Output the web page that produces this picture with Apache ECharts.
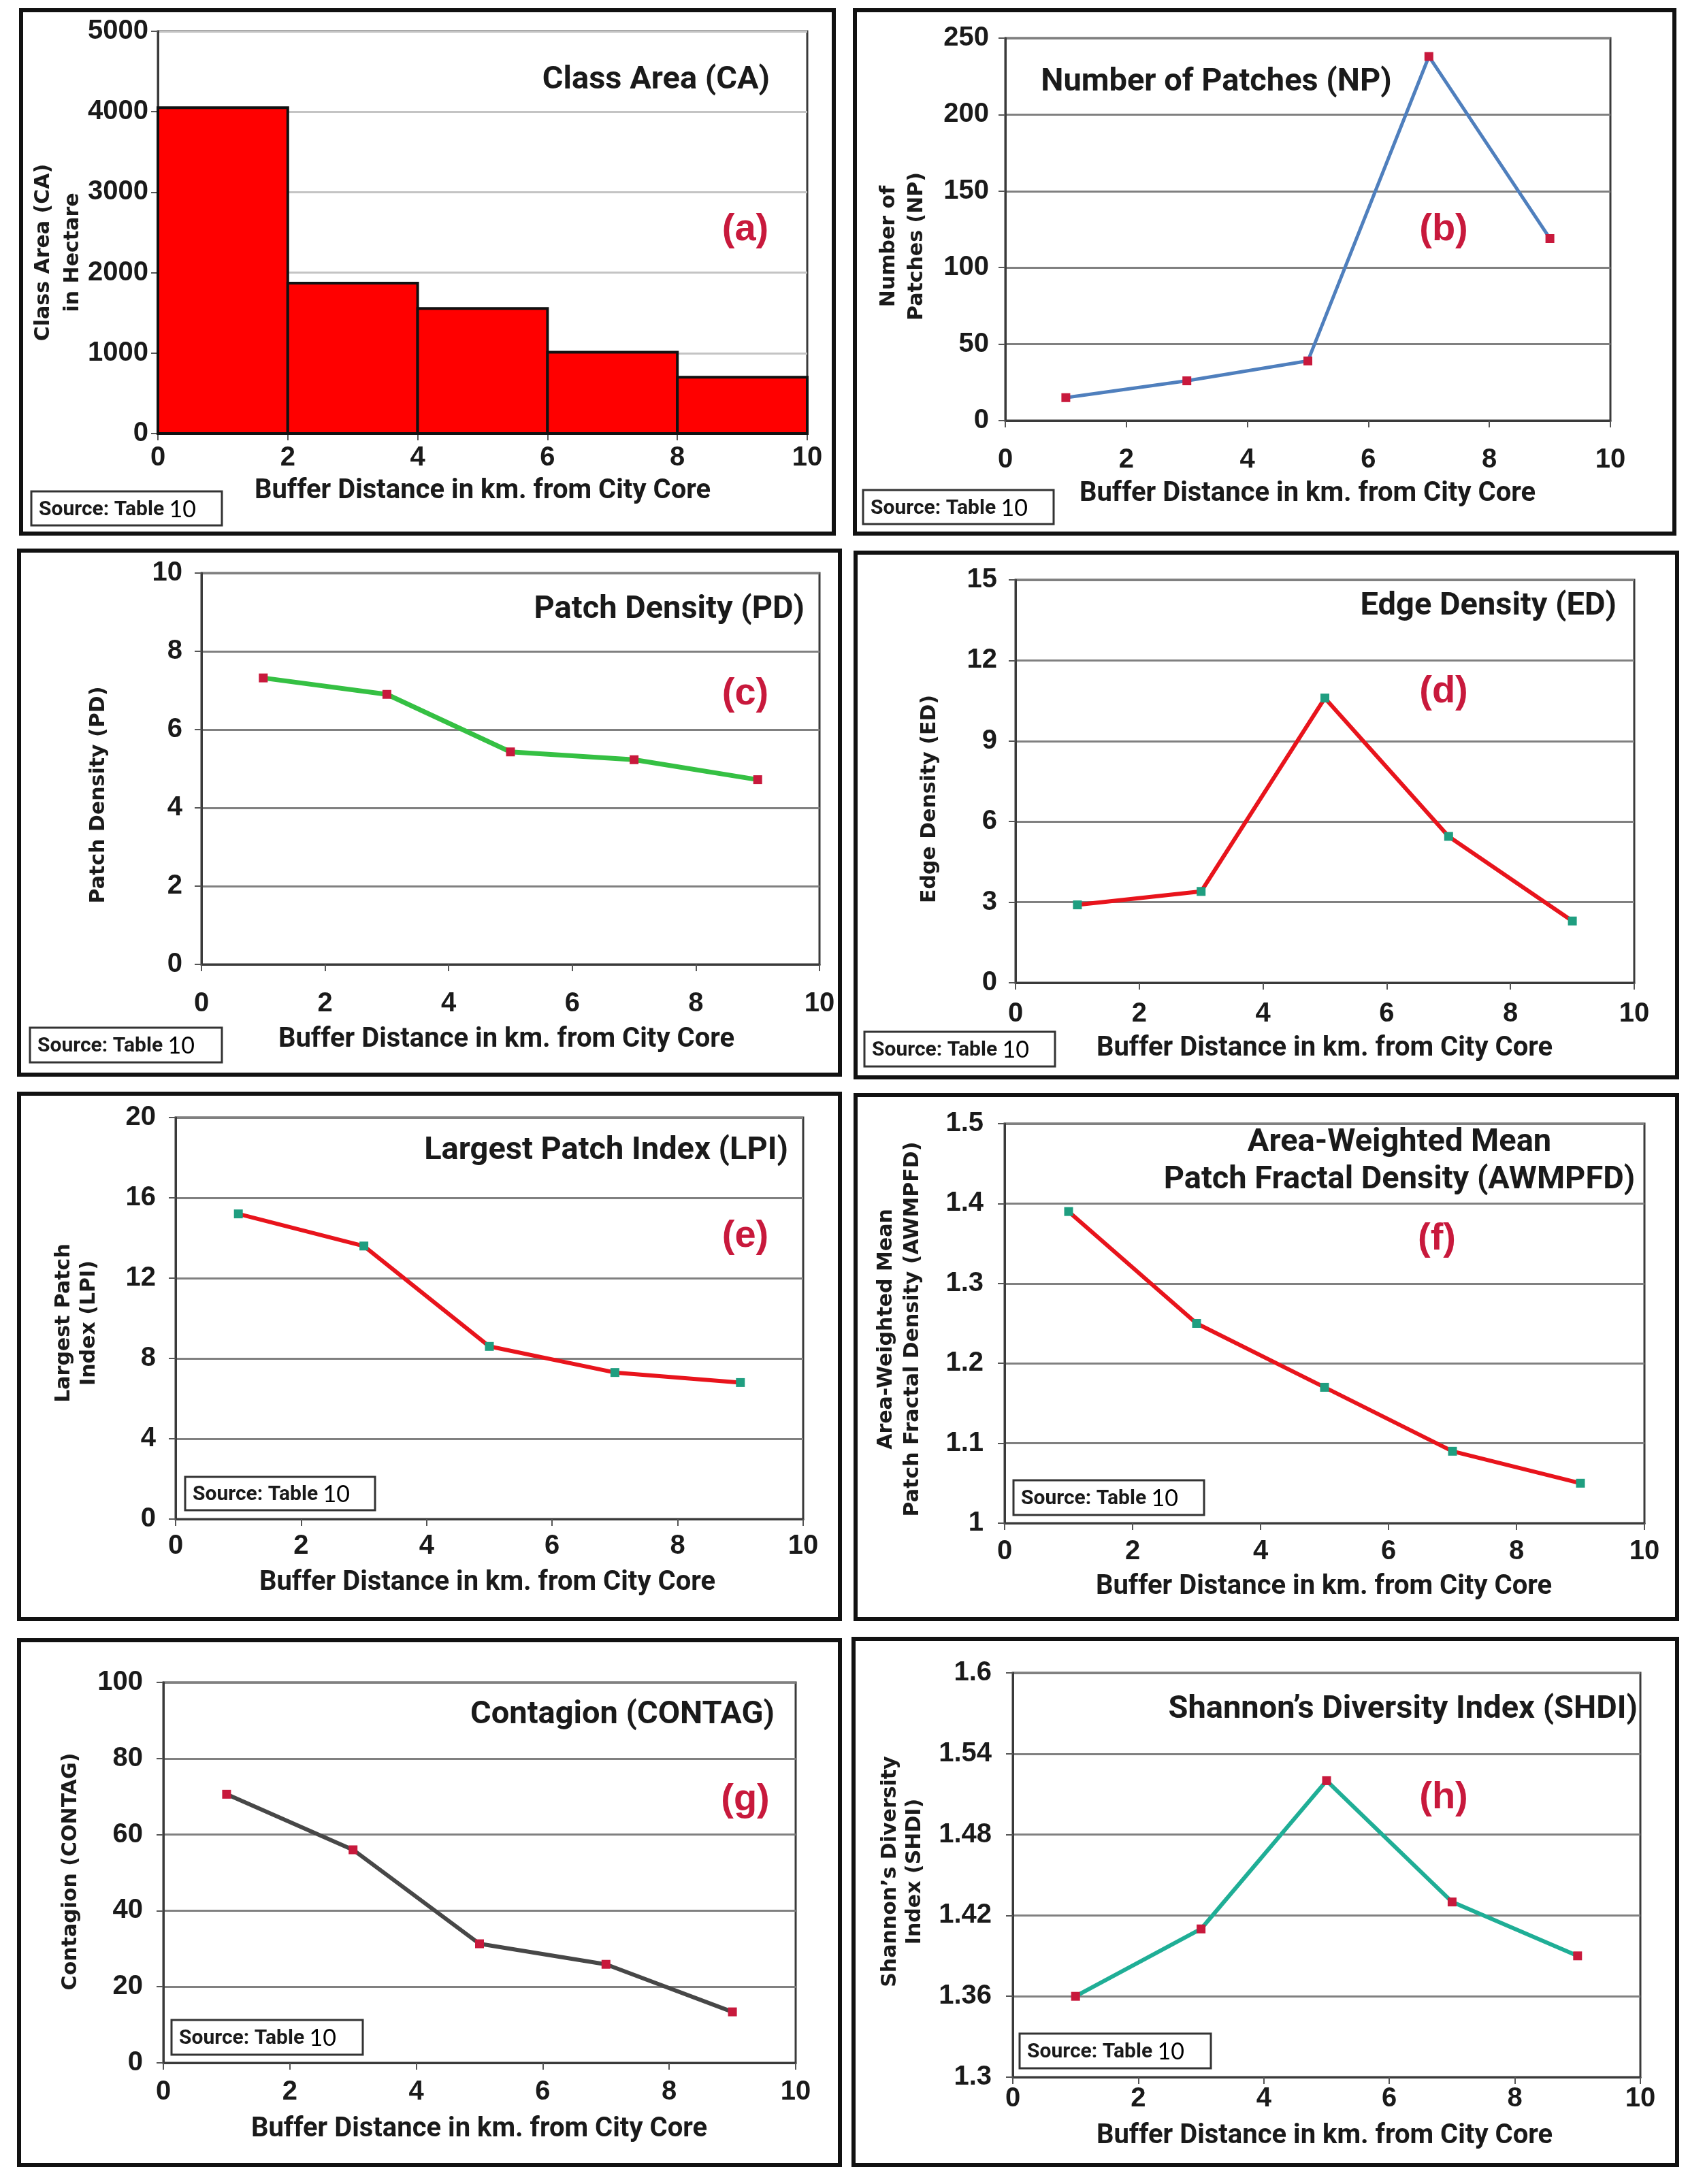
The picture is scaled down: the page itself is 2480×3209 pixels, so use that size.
<!DOCTYPE html>
<html>
<head>
<meta charset="utf-8">
<title>Landscape metrics by buffer distance</title>
<script src="https://cdn.jsdelivr.net/npm/echarts@6.0.0/dist/echarts.min.js"></script>
<style>
  html, body { margin: 0; padding: 0; background: #fff; }
  #chart { width: 2480px; height: 3209px; }
</style>
</head>
<body>
<div id="chart"></div>
<script>
// Buffer distance (km from city core), centre of each 2 km ring
const distance = [1, 3, 5, 7, 9];
// Class area is drawn as one bar per 2 km ring
const caEdges = [0, 2, 4, 6, 8, 10];
const caValues = [4050, 1870, 1555, 1010, 700];

const npValues = [15, 26, 39, 238, 119];
const pdValues = [7.32, 6.9, 5.43, 5.23, 4.72];
const edValues = [2.9, 3.4, 10.6, 5.45, 2.3];
const lpiValues = [15.2, 13.6, 8.6, 7.3, 6.8];
const awmpfdValues = [1.39, 1.25, 1.17, 1.09, 1.05];
const contagValues = [70.6, 56, 31.3, 25.9, 13.4];
const shdiValues = [1.36, 1.41, 1.52, 1.43, 1.39];

// SHDI axis runs 1.3 .. 1.6 by 0.06, so it is plotted relative to its base
const SHDI_BASE = 1.3;

const X_TITLE = 'Buffer Distance in km. from City Core';
const TITLE_FONT = "Roboto, 'Liberation Sans', sans-serif";
const LABEL_FONT = "'Liberation Sans', Arial, sans-serif";
const YTITLE_FONT = "'DejaVu Sans', sans-serif";
const TAG_COLOR = '#c8193c';
const RED = '#e8141c';
const TEAL_MARK = '#1f9e80';

const plainNumber = (v) => String(+v.toFixed(2));

const panels = [
  {
    tag: '(a)', box: [31, 15, 1194, 769], grid: [232, 46, 954, 591],
    y: {min: 0, max: 5000, interval: 1000}, yMargin: 14, xMargin: 16, split: '#c4c4c4',
    title: {text: 'Class Area (CA)', x: 1131, y: 118, align: 'right'}, tagPos: [1095, 338],
    yTitle: {text: 'Class Area (CA)\nin Hectare', x: 86, y: 371, lh: 43},
    xTitle: [709, 722], source: [46, 722, 280, 50],
  },
  {
    tag: '(b)', box: [1256, 15, 1204, 769], grid: [1477, 56, 889, 562],
    y: {min: 0, max: 250, interval: 50}, yMargin: 24, xMargin: 38, split: '#808080',
    title: {text: 'Number of Patches (NP)', x: 1787, y: 121, align: 'center'}, tagPos: [2121, 338],
    yTitle: {text: 'Number of\nPatches (NP)', x: 1327, y: 362, lh: 41},
    xTitle: [1921, 726], source: [1268, 720, 280, 50],
    values: npValues, line: '#4f7fbd', mark: TAG_COLOR, width: 5,
  },
  {
    tag: '(c)', box: [28, 809, 1206, 770], grid: [296, 842, 908, 575],
    y: {min: 0, max: 10, interval: 2}, yMargin: 28, xMargin: 38, split: '#808080',
    title: {text: 'Patch Density (PD)', x: 1182, y: 896, align: 'right'}, tagPos: [1095, 1020],
    yTitle: {text: 'Patch Density (PD)', x: 145, y: 1168, lh: 40},
    xTitle: [744, 1528], source: [44, 1510, 282, 51],
    values: pdValues, line: '#35c043', mark: TAG_COLOR, width: 7,
  },
  {
    tag: '(d)', box: [1257, 812, 1207, 771], grid: [1492, 852, 909, 592],
    y: {min: 0, max: 15, interval: 3}, yMargin: 27, xMargin: 26, split: '#808080',
    title: {text: 'Edge Density (ED)', x: 2375, y: 891, align: 'right'}, tagPos: [2121, 1017],
    yTitle: {text: 'Edge Density (ED)', x: 1366, y: 1174, lh: 40},
    xTitle: [1946, 1541], source: [1270, 1516, 280, 51],
    values: edValues, line: RED, mark: TEAL_MARK, width: 6,
  },
  {
    tag: '(e)', box: [28, 1607, 1206, 772], grid: [258, 1642, 922, 590],
    y: {min: 0, max: 20, interval: 4}, yMargin: 29, xMargin: 20, split: '#808080',
    title: {text: 'Largest Patch Index (LPI)', x: 1158, y: 1691, align: 'right'}, tagPos: [1095, 1817],
    yTitle: {text: 'Largest Patch\nIndex (LPI)', x: 113, y: 1944, lh: 37},
    xTitle: [716, 2326], source: [272, 2170, 279, 49],
    values: lpiValues, line: RED, mark: TEAL_MARK, width: 6,
  },
  {
    tag: '(f)', box: [1257, 1609, 1207, 770], grid: [1476, 1651, 940, 587],
    y: {min: 1, max: 1.5, interval: 0.1}, yMargin: 31, xMargin: 22, split: '#808080',
    title: {text: 'Area-Weighted Mean\nPatch Fractal Density (AWMPFD)', x: 2056, y: 1707, align: 'center', lh: 55},
    tagPos: [2111, 1821],
    yTitle: {text: 'Area-Weighted Mean\nPatch Fractal Density (AWMPFD)', x: 1322, y: 1953, lh: 39},
    xTitle: [1945, 2332], source: [1489, 2175, 280, 51],
    values: awmpfdValues, line: RED, mark: TEAL_MARK, width: 6,
  },
  {
    tag: '(g)', box: [28, 2410, 1206, 771], grid: [240, 2472, 929, 559],
    y: {min: 0, max: 100, interval: 20}, yMargin: 30, xMargin: 23, split: '#808080',
    title: {text: 'Contagion (CONTAG)', x: 1138, y: 2520, align: 'right'}, tagPos: [1095, 2645],
    yTitle: {text: 'Contagion (CONTAG)', x: 104, y: 2750, lh: 40},
    xTitle: [704, 3129], source: [252, 2968, 281, 51],
    values: contagValues, line: '#474747', mark: TAG_COLOR, width: 6,
  },
  {
    tag: '(h)', box: [1254, 2408, 1210, 773], grid: [1488, 2458, 922, 594],
    y: {min: 0, max: 0.3, interval: 0.06}, yMargin: 31, xMargin: 12, split: '#808080',
    yFormatter: (v) => plainNumber(v + SHDI_BASE),
    title: {text: 'Shannon\u2019s Diversity Index (SHDI)', x: 2406, y: 2512, align: 'right'}, tagPos: [2121, 2642],
    yTitle: {text: 'Shannon\u2019s Diversity\nIndex (SHDI)', x: 1326, y: 2750, lh: 36},
    xTitle: [1946, 3139], source: [1498, 2988, 281, 51],
    values: shdiValues.map((v) => v - SHDI_BASE), line: '#1fae96', mark: TAG_COLOR, width: 6,
  },
];

const chart = echarts.init(document.getElementById('chart'));

const option = {
  animation: false,
  backgroundColor: '#ffffff',
  grid: [],
  xAxis: [],
  yAxis: [],
  series: [],
  graphic: [],
};

panels.forEach((p, i) => {
  option.grid.push({
    left: p.grid[0], top: p.grid[1], width: p.grid[2], height: p.grid[3],
    show: true, borderColor: '#3a3a3a', borderWidth: 3,
  });

  const labelStyle = {fontSize: 40, fontWeight: 'bold', color: '#1a1a1a', fontFamily: LABEL_FONT};

  option.xAxis.push({
    type: 'value', gridIndex: i, min: 0, max: 10, interval: 2,
    axisLine: {show: true, onZero: false, lineStyle: {color: '#3a3a3a', width: 3}},
    axisTick: {show: true, length: 10, lineStyle: {color: '#555', width: 2}},
    splitLine: {show: false},
    axisLabel: Object.assign({margin: p.xMargin, formatter: plainNumber}, labelStyle),
  });

  option.yAxis.push({
    type: 'value', gridIndex: i, min: p.y.min, max: p.y.max, interval: p.y.interval,
    axisLine: {show: true, lineStyle: {color: '#3a3a3a', width: 3}},
    axisTick: {show: true, length: 10, lineStyle: {color: '#555', width: 2}},
    splitLine: {show: true, lineStyle: {color: p.split, width: 3}},
    axisLabel: Object.assign({margin: p.yMargin, formatter: p.yFormatter || plainNumber}, labelStyle),
  });

  if (i === 0) {
    // Class area bars span each ring from its inner to its outer edge
    option.series.push({
      type: 'custom', xAxisIndex: 0, yAxisIndex: 0,
      data: caValues.map((v, k) => [caEdges[k], caEdges[k + 1], v]),
      encode: {x: [0, 1], y: 2},
      renderItem: (params, api) => {
        const topLeft = api.coord([api.value(0), api.value(2)]);
        const bottomRight = api.coord([api.value(1), 0]);
        return {
          type: 'rect',
          shape: {
            x: topLeft[0], y: topLeft[1],
            width: bottomRight[0] - topLeft[0], height: bottomRight[1] - topLeft[1],
          },
          style: {fill: '#ff0000', stroke: '#111', lineWidth: 4},
        };
      },
    });
  } else {
    option.series.push({
      type: 'line', xAxisIndex: i, yAxisIndex: i,
      data: distance.map((d, k) => [d, p.values[k]]),
      symbol: 'rect', symbolSize: 13, showSymbol: true,
      lineStyle: {color: p.line, width: p.width},
      itemStyle: {color: p.mark, borderWidth: 0},
      z: 3,
    });
  }

  // Panel frame
  option.graphic.push({
    type: 'rect', z: 100,
    shape: {x: p.box[0], y: p.box[1], width: p.box[2], height: p.box[3]},
    style: {fill: 'transparent', stroke: '#111', lineWidth: 6},
  });

  // Chart title inside the plot
  option.graphic.push({
    type: 'text', z: 100, x: p.title.x, y: p.title.y,
    style: {
      text: p.title.text, align: p.title.align, verticalAlign: 'middle',
      fontSize: 47, fontWeight: 'bold', fontFamily: TITLE_FONT, fill: '#1a1a1a',
      lineHeight: p.title.lh || 60,
    },
  });

  // Panel letter
  option.graphic.push({
    type: 'text', z: 100, x: p.tagPos[0], y: p.tagPos[1],
    style: {
      text: p.tag, align: 'center', verticalAlign: 'middle',
      fontSize: 56, fontWeight: 'bold', fontFamily: LABEL_FONT, fill: TAG_COLOR,
    },
  });

  // Y axis title, reading bottom to top
  option.graphic.push({
    type: 'text', z: 100, x: p.yTitle.x, y: p.yTitle.y, rotation: Math.PI / 2,
    style: {
      text: p.yTitle.text, align: 'center', verticalAlign: 'middle',
      fontSize: 30, fontWeight: 'bold', fontFamily: YTITLE_FONT, fill: '#1a1a1a',
      lineHeight: p.yTitle.lh,
    },
  });

  // X axis title
  option.graphic.push({
    type: 'text', z: 100, x: p.xTitle[0], y: p.xTitle[1],
    style: {
      text: X_TITLE, align: 'center', verticalAlign: 'middle',
      fontSize: 40, fontWeight: 'bold', fontFamily: TITLE_FONT, fill: '#1a1a1a',
    },
  });

  // Source note box
  const s = p.source;
  option.graphic.push({
    type: 'rect', z: 100,
    shape: {x: s[0], y: s[1], width: s[2], height: s[3]},
    style: {fill: '#ffffff', stroke: '#333', lineWidth: 3},
  });
  option.graphic.push({
    type: 'text', z: 101, x: s[0] + 11, y: s[1] + s[3] / 2 + 2,
    style: {
      text: '{a|Source: Table }{b|10}', align: 'left', verticalAlign: 'middle',
      rich: {
        a: {fontSize: 30, fontWeight: 'bold', fontFamily: TITLE_FONT, fill: '#1a1a1a'},
        b: {fontSize: 34, fontFamily: "Lato, 'Liberation Sans', sans-serif", fill: '#000'},
      },
    },
  });
});

chart.setOption(option);
</script>
</body>
</html>
